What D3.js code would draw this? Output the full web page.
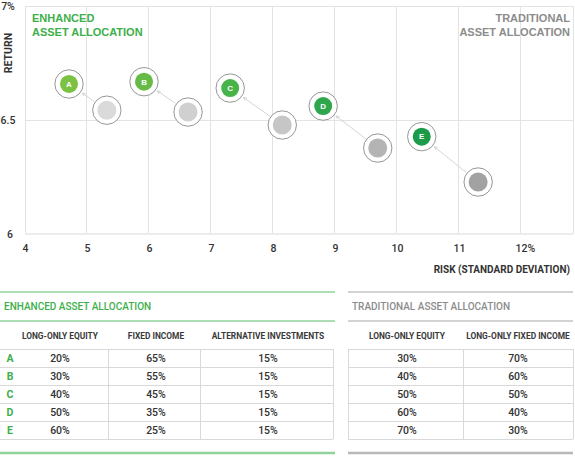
<!DOCTYPE html>
<html>
<head>
<meta charset="utf-8">
<script src="https://cdn.jsdelivr.net/npm/d3@7"></script>
<style>
  body { margin: 0; background: #fff; }
  svg { display: block; }
</style>
</head>
<body>
<svg id="chart" width="575" height="456"></svg>
<script>
// chart values
var riskTicks = [4, 5, 6, 7, 8, 9, 10, 11, 12];
var returnTicks = [6, 6.5, 7];

var enhancedLabels = ["A", "B", "C", "D", "E"];
var enhancedRisk = [4.71, 5.92, 7.31, 8.81, 10.40];
var enhancedReturn = [6.658, 6.668, 6.640, 6.561, 6.427];

var traditionalRisk = [5.32, 6.63, 8.15, 9.69, 11.31];
var traditionalReturn = [6.543, 6.535, 6.478, 6.377, 6.228];

// table values
var enhancedHeaders = ["LONG-ONLY EQUITY", "FIXED INCOME", "ALTERNATIVE INVESTMENTS"];
var enhancedEquity = ["20%", "30%", "40%", "50%", "60%"];
var enhancedFixed = ["65%", "55%", "45%", "35%", "25%"];
var enhancedAlt = ["15%", "15%", "15%", "15%", "15%"];

var traditionalHeaders = ["LONG-ONLY EQUITY", "LONG-ONLY FIXED INCOME"];
var traditionalEquity = ["30%", "40%", "50%", "60%", "70%"];
var traditionalFixed = ["70%", "60%", "50%", "40%", "30%"];

var GREEN = "#3daf4a";
var GRAY_TITLE = "#8c8c8c";
var NARROW = "Roboto, 'Liberation Sans', Arial, sans-serif";
var SANS = "'Liberation Sans', Arial, sans-serif";

var enhancedFills = ["#7cc242", "#65bb45", "#47b348", "#2ea64c", "#1b9b49"];
var traditionalFills = ["#dadada", "#d0d0d0", "#c6c6c6", "#b4b4b4", "#a2a2a2"];

var svg = d3.select("#chart");

var x = d3.scaleLinear().domain([4, 12.84]).range([25, 573]);
var y = d3.scaleLinear().domain([6, 7]).range([234, 6]);

// grid
var grid = svg.append("g").attr("class", "grid");
grid.selectAll("line.v")
    .data(riskTicks.concat([12.84]))
    .enter().append("line")
    .attr("class", "v")
    .attr("x1", function(d) { return x(d); })
    .attr("x2", function(d) { return x(d); })
    .attr("y1", y(7))
    .attr("y2", y(6))
    .attr("stroke", "#e3e3e3")
    .attr("stroke-width", 1)
    .attr("shape-rendering", "crispEdges");

grid.selectAll("line.h")
    .data(returnTicks)
    .enter().append("line")
    .attr("class", "h")
    .attr("x1", x(4))
    .attr("x2", x(12.84))
    .attr("y1", function(d) { return y(d); })
    .attr("y2", function(d) { return y(d); })
    .attr("stroke", function(d) { return d == 6 ? "#ececec" : "#e3e3e3"; })
    .attr("stroke-width", function(d) { return d == 6 ? 2 : 1; })
    .attr("shape-rendering", "crispEdges");

// axes (d3 axes, restyled)
var xAxis = d3.axisBottom(x)
    .tickValues(riskTicks)
    .tickSize(0)
    .tickPadding(0)
    .tickFormat(function(d) { return d == 12 ? "12%" : d; });
var xg = svg.append("g").attr("transform", "translate(0,245)").call(xAxis);
xg.select(".domain").remove();
xg.selectAll("text")
    .attr("font-family", NARROW)
    .attr("font-weight", 500)
    .attr("font-size", "10.5px")
    .attr("fill", "#333")
    .attr("dy", "0.71em")
    .attr("dx", function(d) { return d == 12 ? 4 : 0; });

var yAxis = d3.axisLeft(y)
    .tickValues(returnTicks)
    .tickSize(0)
    .tickPadding(0)
    .tickFormat(function(d) { return d == 7 ? "7%" : d; });
var yg = svg.append("g").attr("transform", "translate(0,0)").call(yAxis);
yg.select(".domain").remove();
yg.selectAll("text")
    .attr("font-family", NARROW)
    .attr("font-weight", 500)
    .attr("font-size", "10.5px")
    .attr("fill", "#333")
    .attr("text-anchor", "middle")
    .attr("x", function(d) { return d == 6 ? 10 : 8; })
    .attr("dy", "0.35em");

svg.append("text")
    .attr("transform", "translate(12,53)rotate(-90)")
    .attr("text-anchor", "middle")
    .attr("font-family", NARROW)
    .attr("font-weight", "bold")
    .attr("font-size", "10.5px")
    .attr("fill", "#333")
    .text("RETURN");

svg.append("text")
    .attr("x", 570)
    .attr("y", 273)
    .attr("text-anchor", "end")
    .attr("font-family", NARROW)
    .attr("font-weight", "bold")
    .attr("font-size", "10px")
    .attr("fill", "#333")
    .text("RISK (STANDARD DEVIATION)");

// series titles
var enhTitle = svg.append("text")
    .attr("font-family", SANS)
    .attr("font-weight", "bold")
    .attr("font-size", "11px")
    .attr("fill", GREEN);
enhTitle.append("tspan").attr("x", 32).attr("y", 22).text("ENHANCED");
enhTitle.append("tspan").attr("x", 32).attr("y", 36).text("ASSET ALLOCATION");

var tradTitle = svg.append("text")
    .attr("font-family", SANS)
    .attr("font-weight", "bold")
    .attr("font-size", "11px")
    .attr("text-anchor", "end")
    .attr("fill", GRAY_TITLE);
tradTitle.append("tspan").attr("x", 570).attr("y", 22).text("TRADITIONAL");
tradTitle.append("tspan").attr("x", 570).attr("y", 36).text("ASSET ALLOCATION");

// arrow marker
svg.append("defs").append("marker")
    .attr("id", "arrowhead")
    .attr("viewBox", "0 -5 10 10")
    .attr("refX", 9)
    .attr("refY", 0)
    .attr("markerWidth", 4)
    .attr("markerHeight", 4)
    .attr("markerUnits", "userSpaceOnUse")
    .attr("orient", "auto")
    .append("path")
    .attr("d", "M1,-4L9,0L1,4")
    .attr("fill", "none")
    .attr("stroke", "#c4c4c4")
    .attr("stroke-width", 1.5);

var OUTER_R = 14.2;

// connecting arrows from traditional to enhanced
var arrows = svg.append("g").attr("class", "arrows");
enhancedLabels.forEach(function(lab, i) {
    var x0 = x(traditionalRisk[i]), y0 = y(traditionalReturn[i]);
    var x1 = x(enhancedRisk[i]), y1 = y(enhancedReturn[i]);
    var dx = x1 - x0, dy = y1 - y0;
    var len = Math.sqrt(dx * dx + dy * dy);
    var ux = dx / len, uy = dy / len;
    arrows.append("line")
        .attr("x1", x0 + ux * (OUTER_R + 1))
        .attr("y1", y0 + uy * (OUTER_R + 1))
        .attr("x2", x1 - ux * (OUTER_R + 2))
        .attr("y2", y1 - uy * (OUTER_R + 2))
        .attr("stroke", "#d0d0d0")
        .attr("stroke-width", 0.9)
        .attr("marker-end", "url(#arrowhead)");
});

// traditional points
var trad = svg.append("g").attr("class", "traditional")
    .selectAll("g")
    .data(traditionalRisk)
    .enter().append("g")
    .attr("transform", function(d, i) { return "translate(" + x(d) + "," + y(traditionalReturn[i]) + ")"; });
trad.append("circle")
    .attr("r", OUTER_R)
    .attr("fill", "#fff")
    .attr("stroke", "#8a8a8a")
    .attr("stroke-width", 0.9);
trad.append("circle")
    .attr("r", 9.5)
    .attr("fill", function(d, i) { return traditionalFills[i]; });

// enhanced points
var enh = svg.append("g").attr("class", "enhanced")
    .selectAll("g")
    .data(enhancedRisk)
    .enter().append("g")
    .attr("transform", function(d, i) { return "translate(" + x(d) + "," + y(enhancedReturn[i]) + ")"; });
enh.append("circle")
    .attr("r", OUTER_R)
    .attr("fill", "#fff")
    .attr("stroke", "#8a8a8a")
    .attr("stroke-width", 0.9);
enh.append("circle")
    .attr("r", 9)
    .attr("fill", function(d, i) { return enhancedFills[i]; });
enh.append("text")
    .attr("text-anchor", "middle")
    .attr("dy", "0.35em")
    .attr("font-family", SANS)
    .attr("font-weight", "bold")
    .attr("font-size", "8px")
    .attr("fill", "#fff")
    .text(function(d, i) { return enhancedLabels[i]; });

// tables
var ROW_TOP = 349, ROW_H = 18;
var rowY = d3.range(enhancedEquity.length + 1).map(function(i) { return ROW_TOP + i * ROW_H; });

function drawTable(opts) {
    var g = svg.append("g");
    g.append("line")
        .attr("x1", opts.x0).attr("x2", opts.x1)
        .attr("y1", 292).attr("y2", 292)
        .attr("stroke", opts.lineColor).attr("stroke-width", 1.2);
    g.append("text")
        .attr("x", opts.x0 + 4).attr("y", 310)
        .attr("font-family", NARROW)
        .attr("font-weight", 500)
        .attr("font-size", "10px")
        .attr("fill", opts.titleColor)
        .text(opts.title);
    g.append("line")
        .attr("x1", opts.x0).attr("x2", opts.x1)
        .attr("y1", 321).attr("y2", 321)
        .attr("stroke", opts.lineColor).attr("stroke-width", 1.2);
    g.append("line")
        .attr("x1", opts.x0).attr("x2", opts.x1)
        .attr("y1", 453).attr("y2", 453)
        .attr("stroke", opts.bottomColor).attr("stroke-width", 2.5);

    // headers
    g.selectAll("text.hdr")
        .data(opts.headers)
        .enter().append("text")
        .attr("class", "hdr")
        .attr("x", function(d, i) { return opts.colCenters[i]; })
        .attr("y", 339)
        .attr("text-anchor", "middle")
        .attr("font-family", NARROW)
        .attr("font-weight", "bold")
        .attr("font-size", "8.4px")
        .attr("fill", "#3a3a3a")
        .text(function(d) { return d; });

    // cell borders
    g.selectAll("line.row")
        .data(rowY)
        .enter().append("line")
        .attr("class", "row")
        .attr("x1", opts.gridX0).attr("x2", opts.gridX1)
        .attr("y1", function(d) { return d; })
        .attr("y2", function(d) { return d; })
        .attr("stroke", "#d9d9d9")
        .attr("shape-rendering", "crispEdges");
    g.selectAll("line.col")
        .data(opts.colLines)
        .enter().append("line")
        .attr("class", "col")
        .attr("x1", function(d) { return d; })
        .attr("x2", function(d) { return d; })
        .attr("y1", rowY[0]).attr("y2", rowY[rowY.length - 1])
        .attr("stroke", "#d9d9d9")
        .attr("shape-rendering", "crispEdges");

    // values
    opts.columns.forEach(function(col, c) {
        g.selectAll("text.c" + c)
            .data(col)
            .enter().append("text")
            .attr("class", "c" + c)
            .attr("x", opts.colCenters[c])
            .attr("y", function(d, i) { return rowY[i] + ROW_H / 2; })
            .attr("dy", "0.36em")
            .attr("text-anchor", "middle")
            .attr("font-family", NARROW)
            .attr("font-weight", 500)
            .attr("font-size", "10.5px")
            .attr("fill", "#333")
            .text(function(d) { return d; });
    });
    return g;
}

var enhTable = drawTable({
    x0: 0, x1: 335,
    gridX0: 0, gridX1: 333,
    lineColor: "#5dbb68",
    bottomColor: "#8fd29a",
    titleColor: GREEN,
    title: "ENHANCED ASSET ALLOCATION",
    headers: enhancedHeaders,
    colCenters: [60, 156, 268],
    colLines: [108, 200, 333],
    columns: [enhancedEquity, enhancedFixed, enhancedAlt]
});
enhTable.selectAll("text.lab")
    .data(enhancedLabels)
    .enter().append("text")
    .attr("class", "lab")
    .attr("x", 10)
    .attr("y", function(d, i) { return rowY[i] + ROW_H / 2; })
    .attr("dy", "0.36em")
    .attr("text-anchor", "middle")
    .attr("font-family", NARROW)
    .attr("font-weight", "bold")
    .attr("font-size", "10.5px")
    .attr("fill", GREEN)
    .text(function(d) { return d; });

drawTable({
    x0: 348, x1: 573,
    gridX0: 348, gridX1: 573,
    lineColor: "#a8a8a8",
    bottomColor: "#b8b8b8",
    titleColor: GRAY_TITLE,
    title: "TRADITIONAL ASSET ALLOCATION",
    headers: traditionalHeaders,
    colCenters: [407, 518],
    colLines: [348, 463, 573],
    columns: [traditionalEquity, traditionalFixed]
});
</script>
</body>
</html>
